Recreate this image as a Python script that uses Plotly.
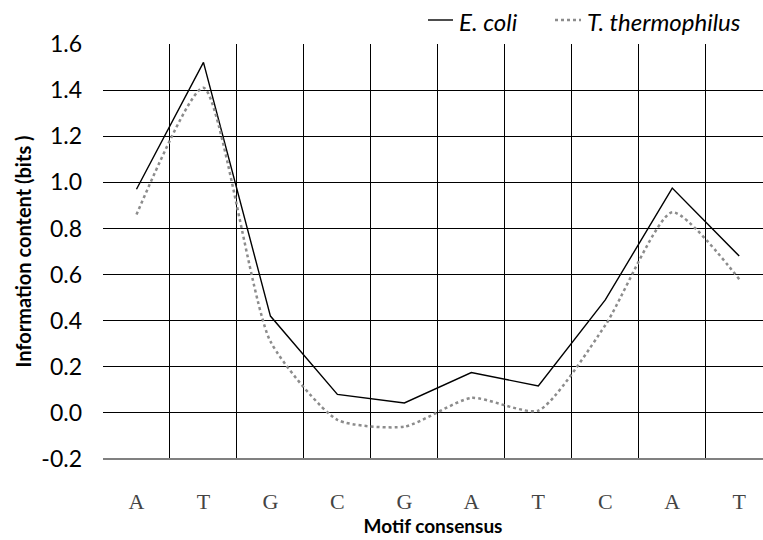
import plotly.graph_objects as go

categories = ["A", "T", "G", "C", "G", "A", "T", "C", "A", "T"]
ecoli = [0.97, 1.52, 0.42, 0.08, 0.043, 0.175, 0.117, 0.49, 0.975, 0.68]
tth = [0.86, 1.41, 0.31, -0.03, -0.06, 0.065, 0.01, 0.38, 0.87, 0.58]
ytick_vals = [-0.2, 0.0, 0.2, 0.4, 0.6, 0.8, 1.0, 1.2, 1.4, 1.6]
ytick_text = ["-0.2", "0.0", "0.2", "0.4", "0.6", "0.8", "1.0", "1.2", "1.4", "1.6"]

xpos = list(range(len(categories)))

fig = go.Figure()
fig.add_trace(go.Scatter(x=xpos, y=ecoli, mode="lines", name="E. coli",
                         line=dict(color="black", width=1.4), showlegend=False))
fig.add_trace(go.Scatter(x=xpos, y=tth, mode="lines", name="T. thermophilus",
                         line=dict(color="#8c8c8c", width=2.5, dash="dot", shape="spline", smoothing=0.6),
                         showlegend=False))

L, R, T, B = 103, 0, 44, 81
W, H = 763, 540
pw = W - L - R
ph = H - T - B

def px(x):
    return (x - L) / pw

def py(y):
    return (H - B - y) / ph

# legend drawn manually
fig.add_shape(type="line", xref="paper", yref="paper", x0=px(428), x1=px(453), y0=py(20), y1=py(20),
              line=dict(color="black", width=1.4))
fig.add_shape(type="line", xref="paper", yref="paper", x0=px(555), x1=px(581), y0=py(20), y1=py(20),
              line=dict(color="#8c8c8c", width=2.5, dash="dot"))
fig.add_annotation(xref="paper", yref="paper", x=px(457), y=py(21), text="<i>E. coli</i>",
                   showarrow=False, xanchor="left", yanchor="middle",
                   font=dict(family="Lato", size=24, color="black"))
fig.add_annotation(xref="paper", yref="paper", x=px(585), y=py(21), text="<i>T. thermophilus</i>",
                   showarrow=False, xanchor="left", yanchor="middle",
                   font=dict(family="Lato", size=24, color="black"))

fig.update_layout(
    width=W, height=H,
    margin=dict(l=L, r=R, t=T, b=B),
    plot_bgcolor="white", paper_bgcolor="white",
    showlegend=False,
)
fig.update_xaxes(
    range=[-0.5, 9.355],
    tickvals=xpos, ticktext=categories,
    tickfont=dict(family="Liberation Serif", size=22, color="#444"),
    showgrid=False,
    minor=dict(tickvals=[i - 0.5 for i in range(11)], showgrid=True, gridcolor="black", gridwidth=1, ticks=""),
    ticks="", ticklabelstandoff=27,
    zeroline=False, showline=False,
    title=dict(text="<b>Motif consensus</b>", font=dict(family="Lato", size=19, color="black"), standoff=0),
)
fig.update_yaxes(
    range=[-0.2, 1.6],
    tickvals=ytick_vals, ticktext=ytick_text,
    tickfont=dict(family="Lato", size=23, color="black"),
    showgrid=True, gridcolor="black", gridwidth=1,
    zeroline=False, showline=False, ticks="", ticklabelstandoff=20,
    title=dict(text="<b>Information content (bits )</b>", font=dict(family="Lato", size=20, color="black"), standoff=4),
)
fig.add_shape(type="line", xref="paper", yref="paper", x0=0, x1=1, y0=0, y1=0,
              line=dict(color="#808080", width=2))

fig.write_html("out.html")
